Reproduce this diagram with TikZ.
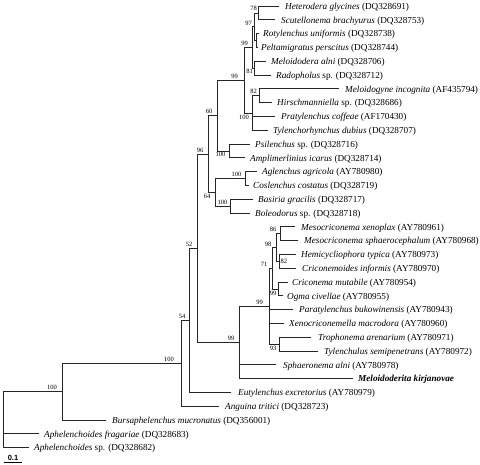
\documentclass[tikz,border=0pt]{standalone}
\usepackage{fontspec}
\usetikzlibrary{calc}
\setmainfont{Liberation Serif}
\newfontfamily\barfont{Liberation Sans}
\begin{document}
\begin{tikzpicture}[x=1pt,y=-1pt,
  br/.style={line width=0.8pt, draw=black!85, line cap=rect},
  leaf/.style={anchor=base west, inner sep=0pt, font=\fontsize{9.2}{11}\selectfont},
  bs/.style={inner sep=0pt, font=\fontsize{6.5}{7}\selectfont},
  bsa/.style={bs, anchor=south east},
  bsb/.style={bs, anchor=north east}]
\useasboundingbox (0,0) rectangle (480,464);
% ---- leaf tips and labels
\foreach \n/\tx/\lx/\yy in {
 1/279/285/6, 2/275/281/19.8, 3/259/263/33.6, 4/258/261/47.4, 5/266/271/61.2,
 6/271/276/75, 7/339/345/88.8, 8/272/277/102.6, 9/275/281/116.4, 10/268/273/130.2,
 11/250/255/144, 12/245/250/157.8, 13/257/262/171.6, 14/249/253/185.4, 15/253/258/199.2,
 16/250/255/213, 17/295/301/226.8, 18/298/304/240.6, 19/296/301/254.4, 20/296/302/268.2,
 21/288/292/282, 22/283/287/295.8, 23/293/299/309.6, 24/284/289/323.4, 25/311/318/337.2,
 26/318/324/351, 27/276/283/364.8, 28/353/358/378.6, 29/231/238/392.4, 30/219/225/406.2,
 31/106/112/420, 32/39/44/433.8, 33/29/34/447.6}
 { \coordinate (t\n) at (\tx,\yy); \coordinate (p\n) at (\lx,\yy+3.2); }
\node[leaf] (l1) at (p1) {\textit{Heterodera glycines} (DQ328691)};
\node[leaf] (l2) at (p2) {\textit{Scutellonema brachyurus} (DQ328753)};
\node[leaf] (l3) at (p3) {\textit{Rotylenchus uniformis} (DQ328738)};
\node[leaf] (l4) at (p4) {\textit{Peltamigratus perscitus} (DQ328744)};
\node[leaf] (l5) at (p5) {\textit{Meloidodera alni} (DQ328706)};
\node[leaf] (l6) at (p6) {\textit{Radopholus} sp. (DQ328712)};
\node[leaf] (l7) at (p7) {\textit{Meloidogyne incognita} (AF435794)};
\node[leaf] (l8) at (p8) {\textit{Hirschmanniella} sp. (DQ328686)};
\node[leaf] (l9) at (p9) {\textit{Pratylenchus coffeae} (AF170430)};
\node[leaf] (l10) at (p10) {\textit{Tylenchorhynchus dubius} (DQ328707)};
\node[leaf] (l11) at (p11) {\textit{Psilenchus} sp. (DQ328716)};
\node[leaf] (l12) at (p12) {\textit{Amplimerlinius icarus} (DQ328714)};
\node[leaf] (l13) at (p13) {\textit{Aglenchus agricola} (AY780980)};
\node[leaf] (l14) at (p14) {\textit{Coslenchus costatus} (DQ328719)};
\node[leaf] (l15) at (p15) {\textit{Basiria gracilis} (DQ328717)};
\node[leaf] (l16) at (p16) {\textit{Boleodorus} sp. (DQ328718)};
\node[leaf] (l17) at (p17) {\textit{Mesocriconema xenoplax} (AY780961)};
\node[leaf] (l18) at (p18) {\textit{Mesocriconema sphaerocephalum} (AY780968)};
\node[leaf] (l19) at (p19) {\textit{Hemicycliophora typica} (AY780973)};
\node[leaf] (l20) at (p20) {\textit{Criconemoides informis} (AY780970)};
\node[leaf] (l21) at (p21) {\textit{Criconema mutabile} (AY780954)};
\node[leaf] (l22) at (p22) {\textit{Ogma civellae} (AY780955)};
\node[leaf] (l23) at (p23) {\textit{Paratylenchus bukowinensis} (AY780943)};
\node[leaf] (l24) at (p24) {\textit{Xenocriconemella macrodora} (AY780960)};
\node[leaf] (l25) at (p25) {\textit{Trophonema arenarium} (AY780971)};
\node[leaf] (l26) at (p26) {\textit{Tylenchulus semipenetrans} (AY780972)};
\node[leaf] (l27) at (p27) {\textit{Sphaeronema alni} (AY780978)};
\node[leaf] (l28) at (p28) {\textbf{\textit{Meloidoderita kirjanovae}}};
\node[leaf] (l29) at (p29) {\textit{Eutylenchus excretorius} (AY780979)};
\node[leaf] (l30) at (p30) {\textit{Anguina tritici} (DQ328723)};
\node[leaf] (l31) at (p31) {\textit{Bursaphelenchus mucronatus} (DQ356001)};
\node[leaf] (l32) at (p32) {\textit{Aphelenchoides fragariae} (DQ328683)};
\node[leaf] (l33) at (p33) {\textit{Aphelenchoides} sp. (DQ328682)};
% ---- internal nodes
\coordinate (n78) at (258,12.9);
\coordinate (nRP) at (256,40.5);
\coordinate (n97) at (254,26.7);
\coordinate (n81) at (254,68.1);
\coordinate (n99a) at (252,47.4);
\coordinate (n82a) at (259,95.7);
\coordinate (n100a) at (252,113);
\coordinate (n99b) at (244,80.2);
\coordinate (nPs) at (229,150.9);
\coordinate (n60) at (217,115.5);
\coordinate (nAg) at (245,178.5);
\coordinate (nBa) at (230,206.1);
\coordinate (n64) at (215,192.3);
\coordinate (n96) at (208,153.9);
\coordinate (n86) at (280,233.7);
\coordinate (n82b) at (279,261.3);
\coordinate (n98) at (276,247.5);
\coordinate (n99d) at (278,288.9);
\coordinate (n71) at (272,268.2);
\coordinate (n93) at (279,344.1);
\coordinate (n99e) at (269,306.2);
\coordinate (n99c) at (239,342.4);
\coordinate (n52) at (197,248.2);
\coordinate (n54) at (189,320.3);
\coordinate (n100b) at (181,363.3);
\coordinate (n100c) at (62,391.6);
\coordinate (root) at (3,419.6);
% ---- branches
\draw[br] (n78) |- (t1); \draw[br] (n78) |- (t2);
\draw[br] (nRP) |- (t3); \draw[br] (nRP) |- (t4);
\draw[br] (n97) |- (n78); \draw[br] (n97) |- (nRP);
\draw[br] (n81) |- (t5); \draw[br] (n81) |- (t6);
\draw[br] (n99a) |- (n97); \draw[br] (n99a) |- (n81);
\draw[br] (n82a) |- (t7); \draw[br] (n82a) |- (t8);
\draw[br] (n100a) |- (n82a); \draw[br] (n100a) |- (t9); \draw[br] (n100a) |- (t10);
\draw[br] (n99b) |- (n99a); \draw[br] (n99b) |- (n100a);
\draw[br] (nPs) |- (t11); \draw[br] (nPs) |- (t12);
\draw[br] (n60) |- (n99b); \draw[br] (n60) |- (nPs);
\draw[br] (nAg) |- (t13); \draw[br] (nAg) |- (t14);
\draw[br] (nBa) |- (t15); \draw[br] (nBa) |- (t16);
\draw[br] (n64) |- (nAg); \draw[br] (n64) |- (nBa);
\draw[br] (n96) |- (n60); \draw[br] (n96) |- (n64);
\draw[br] (n86) |- (t17); \draw[br] (n86) |- (t18);
\draw[br] (n82b) |- (t19); \draw[br] (n82b) |- (t20);
\draw[br] (n98) |- (n86); \draw[br] (n98) |- (n82b);
\draw[br] (n99d) |- (t21); \draw[br] (n99d) |- (t22);
\draw[br] (n71) |- (n98); \draw[br] (n71) |- (n99d);
\draw[br] (n93) |- (t25); \draw[br] (n93) |- (t26);
\draw[br] (n99e) |- (n71); \draw[br] (n99e) |- (t23); \draw[br] (n99e) |- (t24); \draw[br] (n99e) |- (n93);
\draw[br] (n99c) |- (n99e); \draw[br] (n99c) |- (t27); \draw[br] (n99c) |- (t28);
\draw[br] (n52) |- (n96); \draw[br] (n52) |- (n99c);
\draw[br] (n54) |- (n52); \draw[br] (n54) |- (t29);
\draw[br] (n100b) |- (n54); \draw[br] (n100b) |- (t30);
\draw[br] (n100c) |- (n100b); \draw[br] (n100c) |- (t31);
\draw[br] (root) |- (n100c); \draw[br] (root) |- (t32); \draw[br] (root) |- (t33);
% ---- bootstrap values
\node[bsa] (b78) at ([shift={(-1,-2)}]n78) {78};
\node[bsa] (b97) at ([shift={(-2,-0.5)}]n97) {97};
\node[bsa] (b99a) at ([shift={(-4,-1.5)}]n99a) {99};
\node[bsb] (b81) at ([shift={(-1,1)}]n81) {81};
\node[bsa] (b82a) at ([shift={(-2,-2)}]n82a) {82};
\node[bsb] (b100a) at ([shift={(-3,1.5)}]n100a) {100};
\node[bsa] (b99b) at ([shift={(-6,-1.5)}]n99b) {99};
\node[bsa] (b60) at ([shift={(-4.5,-1.5)}]n60) {60};
\node[bsb] (b100p) at ([shift={(-3.5,1.5)}]nPs) {100};
\node[bsa] (b100g) at ([shift={(-3.5,-1.5)}]nAg) {100};
\node[bsa] (b100s) at ([shift={(-2.5,-1.5)}]nBa) {100};
\node[bsb] (b64) at ([shift={(-4.5,1.5)}]n64) {64};
\node[bsa] (b96) at ([shift={(-4.5,-1.5)}]n96) {96};
\node[bsa] (b86) at ([shift={(-3.5,-1.5)}]n86) {86};
\node[bs, anchor=west] (b82b) at ([shift={(1.5,0)}]n82b) {82};
\node[bsa] (b98) at ([shift={(-4.5,-1)}]n98) {98};
\node[bsb] (b99d) at ([shift={(-1.5,2.5)}]n99d) {99};
\node[bsa] (b71) at ([shift={(-4.5,-1.5)}]n71) {71};
\node[bsb] (b93) at ([shift={(-2.5,2)}]n93) {93};
\node[bsa] (b99e) at ([shift={(-6,-1.5)}]n99e) {99};
\node[bsa] (b99c) at ([shift={(-4.5,-1.5)}]n99c) {99};
\node[bsa] (b52) at ([shift={(-4.5,-1.5)}]n52) {52};
\node[bsa] (b54) at ([shift={(-3.5,-1.5)}]n54) {54};
\node[bsa] (b100b) at ([shift={(-7,-1.5)}]n100b) {100};
\node[bsa] (b100c) at ([shift={(-5,-1.5)}]n100c) {100};
% ---- scale bar
\coordinate (sb1) at (4,462);
\coordinate (sb2) at (22,462);
\draw[line width=1pt] (sb1) -- (sb2);
\node[inner sep=0pt, anchor=south, font=\barfont\bfseries\fontsize{7.5}{8}\selectfont] (sbl) at ([yshift=1.5pt]$(sb1)!0.5!(sb2)$) {0.1};
\end{tikzpicture}
\end{document}
